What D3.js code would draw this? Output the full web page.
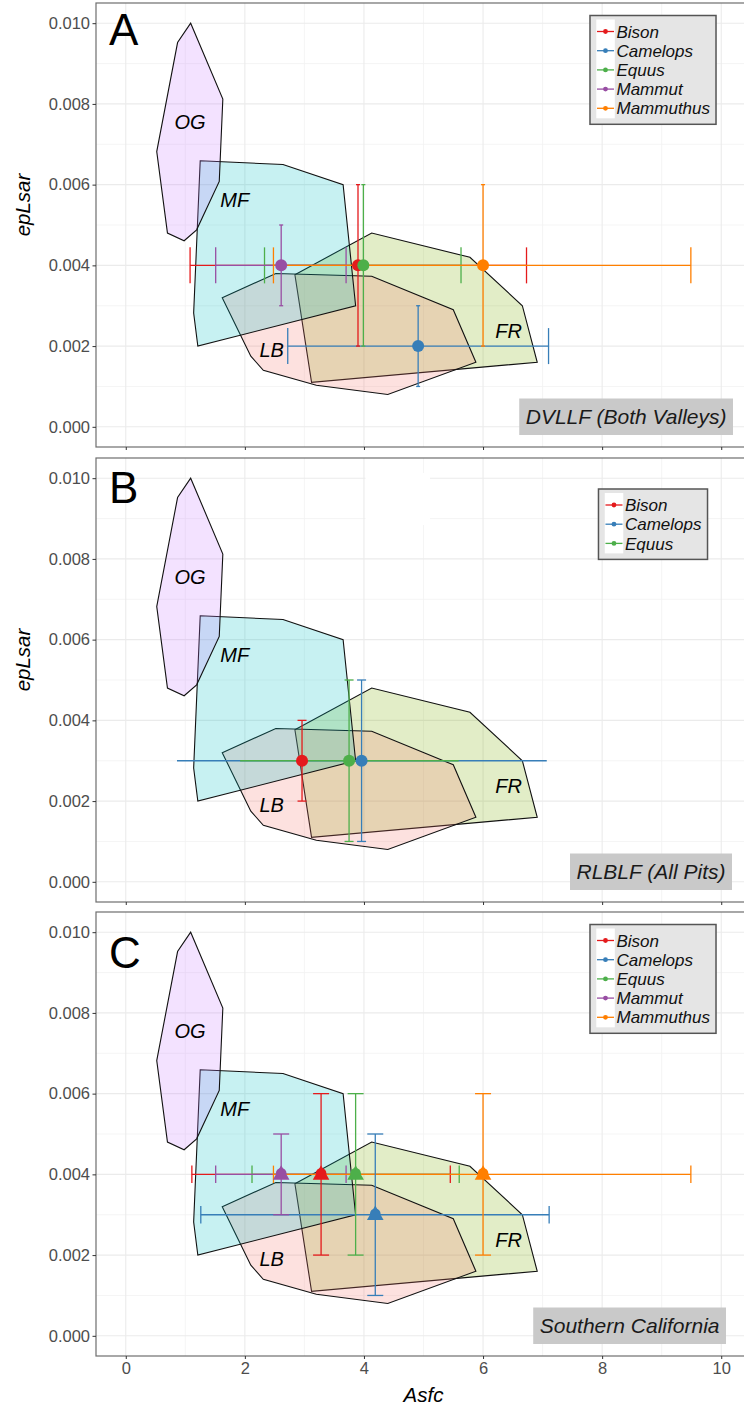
<!DOCTYPE html>
<html>
<head>
<meta charset="utf-8">
<title>Asfc vs epLsar</title>
<style>
  body { margin: 0; background: #fff; }
  text { font-family: "Liberation Sans", Arial, sans-serif; }
</style>
</head>
<body>
<script src="https://d3js.org/d3.v7.min.js"></script>
<script>
// species + colours (Set1)
const species = ["Bison", "Camelops", "Equus", "Mammut", "Mammuthus"];
const speciesColors = ["#E41A1C", "#377EB8", "#4DAF4A", "#984EA3", "#FF7F00"];

// reference diet polygons [Asfc, epLsar]
const polyFR = [[2.84,0.00377],[4.13,0.0048],[5.78,0.0042],[6.66,0.0030],[6.91,0.0016],[3.12,0.0011]];
const polyLB = [[1.62,0.0032],[2.52,0.0038],[4.13,0.00373],[5.50,0.0029],[5.88,0.0016],[4.40,0.0008],[3.20,0.00103],[2.31,0.0014],[2.10,0.00175]];
const polyMF = [[1.25,0.00659],[2.64,0.0065],[3.65,0.0060],[3.86,0.0030],[1.21,0.0020],[1.14,0.00282]];
const polyOG = [[1.09,0.0100],[0.87,0.00952],[0.52,0.00682],[0.70,0.0048],[0.98,0.00461],[1.19,0.00488],[1.57,0.00608],[1.63,0.00812]];
const polyNames = ["FR", "LB", "MF", "OG"];
const polyLabelPos = [[6.43,0.00237],[2.45,0.0019],[1.83,0.00563],[1.08,0.00756]];

// A: DVLLF (Both Valleys)
const asfcA   = [3.90, 4.91, 3.99, 2.61, 6.00];
const asfcLoA = [1.08, 2.72, 2.33, 1.51, 2.48];
const asfcHiA = [6.73, 7.10, 5.63, 3.70, 9.49];
const epA     = [0.004, 0.002, 0.004, 0.004, 0.004];
const epLoA   = [0.002, 0.001, 0.002, 0.003, 0.002];
const epHiA   = [0.006, 0.003, 0.006, 0.005, 0.006];

// B: RLBLF (All Pits) - Bison, Camelops, Equus
const asfcB   = [2.96, 3.96, 3.75];
const asfcLoB = [null, 0.86, 1.92];
const asfcHiB = [null, 7.07, 5.59];
const epB     = [0.003, 0.003, 0.003];
const epLoB   = [0.002, 0.001, 0.001];
const epHiB   = [0.004, 0.005, 0.005];

// C: Southern California
const asfcC   = [3.28, 4.19, 3.86, 2.61, 6.00];
const asfcLoC = [1.11, 1.26, 2.12, 1.51, 2.48];
const asfcHiC = [5.45, 7.11, 5.60, 3.70, 9.49];
const epC     = [0.004, 0.003, 0.004, 0.004, 0.004];
const epLoC   = [0.002, 0.001, 0.002, 0.003, 0.002];
const epHiC   = [0.006, 0.005, 0.006, 0.005, 0.006];

const xTicks = [0, 2, 4, 6, 8, 10];
const yTicks = [0, 0.002, 0.004, 0.006, 0.008, 0.010];

function rows(x, xlo, xhi, y, ylo, yhi) {
  return x.map(function(d, i) {
    return {name: species[i], color: speciesColors[i], x: d, xlo: xlo[i], xhi: xhi[i], y: y[i], ylo: ylo[i], yhi: yhi[i]};
  });
}

const panels = [
  {letter: "A", letterY: 42, top: 3, caption: "DVLLF (Both Valleys)", capRight: 733, legendTop: 12.5,
   ylab: true, xlabels: false, hcap: 36, vcap: 2, marker: "circle",
   data: rows(asfcA, asfcLoA, asfcHiA, epA, epLoA, epHiA)},
  {letter: "B", letterY: 45, top: 458, caption: "RLBLF (All Pits)", capRight: 732, legendTop: 31,
   ylab: true, xlabels: false, hcap: 0, vcap: 4.5, marker: "circle",
   data: rows(asfcB, asfcLoB, asfcHiB, epB, epLoB, epHiB)},
  {letter: "C", letterY: 56, top: 912, caption: "Southern California", capRight: 726, legendTop: 12.5,
   ylab: false, xlabels: true, hcap: 17.5, vcap: 8, marker: "bell",
   data: rows(asfcC, asfcLoC, asfcHiC, epC, epLoC, epHiC)}
];

const width = 744, height = 1409;
const left = 96, right = 751, panelH = 444;

const svg = d3.select("body").append("svg")
  .attr("width", width)
  .attr("height", height);

const x = d3.scaleLinear().domain([-0.5, 10.5]).range([left, right]);
const y = d3.scaleLinear().domain([-0.0005, 0.0105]).range([panelH, 0]);

const polys = [polyFR, polyLB, polyMF, polyOG];
const polyColors = ["#7CAE00", "#F8766D", "#00BFC4", "#C77CFF"];
const line = d3.line().x(function(d) { return x(d[0]); }).y(function(d) { return y(d[1]); });

panels.forEach(function(p) {
  const g = svg.append("g").attr("transform", "translate(0," + p.top + ")");

  // clip to panel
  const clipId = "clip" + p.letter;
  g.append("clipPath").attr("id", clipId)
    .append("rect").attr("x", left).attr("y", 0).attr("width", right - left).attr("height", panelH);
  const plot = g.append("g").attr("clip-path", "url(#" + clipId + ")");

  // grid
  const minorX = [1, 3, 5, 7, 9];
  const minorY = [0.001, 0.003, 0.005, 0.007, 0.009];
  plot.selectAll(".gxm").data(minorX).enter().append("line")
    .attr("x1", x).attr("x2", x).attr("y1", 0).attr("y2", panelH)
    .attr("stroke", "#f3f3f3").attr("stroke-width", 0.8);
  plot.selectAll(".gym").data(minorY).enter().append("line")
    .attr("x1", left).attr("x2", right).attr("y1", y).attr("y2", y)
    .attr("stroke", "#f3f3f3").attr("stroke-width", 0.8);
  plot.selectAll(".gx").data(xTicks).enter().append("line")
    .attr("x1", x).attr("x2", x).attr("y1", 0).attr("y2", panelH)
    .attr("stroke", "#ebebeb").attr("stroke-width", 1.1);
  plot.selectAll(".gy").data(yTicks).enter().append("line")
    .attr("x1", left).attr("x2", right).attr("y1", y).attr("y2", y)
    .attr("stroke", "#ebebeb").attr("stroke-width", 1.1);

  if (p.letter === "B") {
    // blank patch that covers the grid in the original
    plot.append("rect").attr("x", 365.5).attr("y", 15).attr("width", 64.5).attr("height", 52).attr("fill", "#fff");
  }

  // polygons
  plot.selectAll(".poly").data(polys).enter().append("path")
    .attr("d", function(d) { return line(d) + "Z"; })
    .attr("fill", function(d, i) { return polyColors[i]; })
    .attr("fill-opacity", 0.22)
    .attr("stroke", "#111")
    .attr("stroke-width", 1.1);

  plot.selectAll(".plab").data(polyLabelPos).enter().append("text")
    .attr("x", function(d) { return x(d[0]); })
    .attr("y", function(d) { return y(d[1]); })
    .attr("dy", "0.36em")
    .attr("text-anchor", "middle")
    .style("font-size", "20px")
    .style("font-style", "italic")
    .text(function(d, i) { return polyNames[i]; });

  // horizontal error bars
  const hb = p.data.filter(function(d) { return d.xlo != null; });
  hb.forEach(function(d) {
    const s = plot.append("g").attr("stroke", d.color).attr("stroke-width", 1.3).attr("fill", "none");
    s.append("line").attr("x1", x(d.xlo)).attr("x2", x(d.xhi)).attr("y1", y(d.y)).attr("y2", y(d.y));
    if (p.hcap > 0) {
      [d.xlo, d.xhi].forEach(function(v) {
        s.append("line").attr("x1", x(v)).attr("x2", x(v))
          .attr("y1", y(d.y) - p.hcap / 2).attr("y2", y(d.y) + p.hcap / 2);
      });
    }
  });
  // vertical error bars
  p.data.forEach(function(d) {
    const s = plot.append("g").attr("stroke", d.color).attr("stroke-width", 1.3).attr("fill", "none");
    s.append("line").attr("x1", x(d.x)).attr("x2", x(d.x)).attr("y1", y(d.ylo)).attr("y2", y(d.yhi));
    [d.ylo, d.yhi].forEach(function(v) {
      s.append("line").attr("x1", x(d.x) - p.vcap).attr("x2", x(d.x) + p.vcap)
        .attr("y1", y(v)).attr("y2", y(v));
    });
  });
  // points
  p.data.forEach(function(d) {
    if (p.marker === "circle") {
      plot.append("circle").attr("cx", x(d.x)).attr("cy", y(d.y)).attr("r", 6).attr("fill", d.color);
    } else {
      plot.append("circle").attr("cx", x(d.x)).attr("cy", y(d.y) - 1).attr("r", 5.3).attr("fill", d.color);
      plot.append("path").attr("d", d3.symbol(d3.symbolTriangle, 120)())
        .attr("transform", "translate(" + x(d.x) + "," + (y(d.y) + 0.5) + ")")
        .attr("fill", d.color);
    }
  });

  // legend
  const lg = g.append("g");
  const rowH = 19.2;
  const lh = 32 + rowH * (p.data.length - 1);
  const lbox = lg.append("rect").attr("y", p.legendTop).attr("height", lh)
    .attr("fill", "#e5e5e5").attr("stroke", "#555").attr("stroke-width", 1.5);
  const keyBg = lg.append("rect").attr("y", p.legendTop + 4).attr("height", lh - 10).attr("width", 18.5).attr("fill", "#fff");
  const items = lg.selectAll(".li").data(p.data).enter().append("g")
    .attr("transform", function(d, i) { return "translate(0," + (p.legendTop + 16 + i * rowH) + ")"; });
  const texts = items.append("text").attr("dy", "0.36em")
    .style("font-size", "17px").style("font-style", "italic").attr("fill", "#111")
    .text(function(d) { return d.name; });
  let tw = 0;
  texts.each(function() { tw = Math.max(tw, this.getComputedTextLength()); });
  const lw = 26.5 + tw + 6;
  const lx = 653 - lw / 2;
  lbox.attr("x", lx).attr("width", lw);
  keyBg.attr("x", lx + 6.3);
  texts.attr("x", lx + 26.5);
  items.append("line").attr("x1", lx + 7).attr("x2", lx + 24).attr("y1", 0).attr("y2", 0)
    .attr("stroke", function(d) { return d.color; }).attr("stroke-width", 1.3);
  items.append("circle").attr("cx", lx + 15.5).attr("cy", 0).attr("r", 2.4)
    .attr("fill", function(d) { return d.color; });

  // caption box
  const cap = g.append("g");
  const capBox = cap.append("rect").attr("y", 395.5).attr("height", 36.5).attr("fill", "#c9c9c9");
  const capText = cap.append("text").attr("y", 413.5).attr("dy", "0.36em")
    .attr("text-anchor", "end")
    .style("font-size", "21px").style("font-style", "italic").attr("fill", "#1a1a1a")
    .text(p.caption);
  const cw = capText.node().getComputedTextLength();
  capText.attr("x", p.capRight - 6.5);
  capBox.attr("x", p.capRight - cw - 13).attr("width", cw + 13);

  // panel letter
  g.append("text").attr("x", 109).attr("y", p.letterY)
    .style("font-family", "'Liberation Sans', Arial, sans-serif").style("font-size", "44px")
    .attr("fill", "#000").text(p.letter);

  // border
  g.append("rect").attr("x", left).attr("y", 0).attr("width", right - left).attr("height", panelH)
    .attr("fill", "none").attr("stroke", "#6e6e6e").attr("stroke-width", 1.2);

  // axes
  const ya = g.append("g").attr("transform", "translate(" + left + ",0)")
    .call(d3.axisLeft(y).tickValues(yTicks).tickFormat(d3.format(".3f")).tickSize(3.5).tickPadding(2.5));
  const xa = g.append("g").attr("transform", "translate(0," + panelH + ")")
    .call(d3.axisBottom(x).tickValues(xTicks).tickSize(3).tickPadding(3)
      .tickFormat(p.xlabels ? d3.format("d") : function() { return ""; }));
  [ya, xa].forEach(function(a) {
    a.select(".domain").remove();
    a.selectAll(".tick line").attr("stroke", "#333");
    a.selectAll(".tick text").attr("fill", "#4d4d4d")
      .style("font-size", "16.5px").style("font-family", "'Liberation Sans', Arial, sans-serif");
  });

  if (p.ylab) {
    g.append("text").attr("transform", "translate(22.5,202) rotate(-90)")
      .attr("text-anchor", "middle").attr("dy", "0.36em")
      .style("font-size", "20.5px").style("font-style", "italic").text("epLsar");
  }
  if (p.xlabels) {
    g.append("text").attr("x", (left + right) / 2).attr("y", 483).attr("dy", "0.36em")
      .attr("text-anchor", "middle")
      .style("font-size", "20.5px").style("font-style", "italic").text("Asfc");
  }
});
</script>
</body>
</html>
